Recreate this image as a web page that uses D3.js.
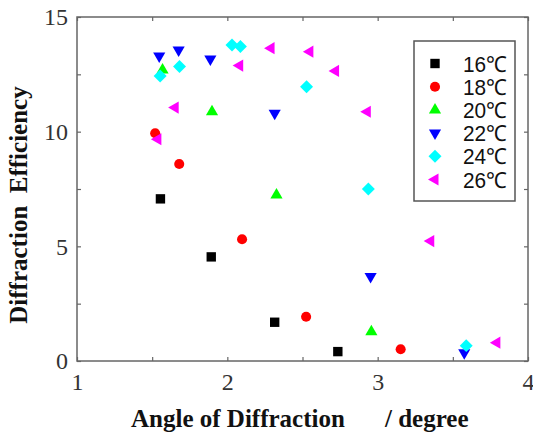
<!DOCTYPE html>
<html>
<head>
<meta charset="utf-8">
<script src="https://cdn.jsdelivr.net/npm/d3@7"></script>
<style>
  body { margin: 0; background: #fff; }
  svg { display: block; }
  .tick text { font-family: "Liberation Serif", serif; font-size: 24px; fill: #333; }
</style>
</head>
<body>
<script>
// series: temperature labels and (angle, efficiency) readings
var series = ["16℃", "18℃", "20℃", "22℃", "24℃", "26℃"];
var colors = ["#000000", "#ff0000", "#00ff00", "#0000ff", "#00ffff", "#ff00ff"];

var angle16 = [1.555, 1.893, 2.315, 2.735];
var eff16   = [7.07, 4.54, 1.69, 0.41];
var angle18 = [1.52, 1.68, 2.098, 2.524, 3.153];
var eff18   = [9.93, 8.59, 5.31, 1.93, 0.51];
var angle20 = [1.569, 1.898, 2.327, 2.958];
var eff20   = [12.69, 10.87, 7.24, 1.28];
var angle22 = [1.547, 1.676, 1.887, 2.315, 2.953, 3.576];
var eff22   = [13.30, 13.56, 13.17, 10.80, 3.68, 0.36];
var angle24 = [1.553, 1.682, 2.031, 2.087, 2.527, 2.938, 3.589];
var eff24   = [12.43, 12.84, 13.78, 13.71, 11.96, 7.50, 0.67];
var angle26 = [1.538, 1.653, 2.082, 2.291, 2.549, 2.72, 2.931, 3.353, 3.793];
var eff26   = [9.67, 11.05, 12.88, 13.64, 13.49, 12.65, 10.87, 5.23, 0.80];

var xTicks = [1, 2, 3, 4];
var yTicks = [0, 5, 10, 15];

var angles = [angle16, angle18, angle20, angle22, angle24, angle26];
var effs = [eff16, eff18, eff20, eff22, eff24, eff26];

(function(){
    var w = 533, h = 434;
    var left = 77, right = 528, top = 17, bottom = 361;

    var svg = d3.select("body").append("svg")
        .attr("width", w)
        .attr("height", h);

    var x = d3.scaleLinear().domain([1, 4]).range([left, right]);
    var y = d3.scaleLinear().domain([0, 15]).range([bottom, top]);

    // marker shape per series: square, circle, up, down, diamond, left
    var shapes = [
        {type: d3.symbolSquare, size: 88, rot: 0},
        {type: d3.symbolCircle, size: 80, rot: 0},
        {type: d3.symbolTriangle, size: 64, rot: 0},
        {type: d3.symbolTriangle, size: 64, rot: 180},
        {type: d3.symbolSquare, size: 84, rot: 45},
        {type: d3.symbolTriangle, size: 64, rot: -90}
    ];

    var xMinor = d3.range(1, 4.01, 0.5);
    var yMinor = d3.range(0, 15.01, 2.5);
    var fmtX = function(d) { return xTicks.indexOf(d) >= 0 ? d : ""; };
    var fmtY = function(d) { return yTicks.indexOf(d) >= 0 ? d : ""; };

    // axes, ticks pointing inward
    var gx = svg.append("g").attr("transform", "translate(0," + bottom + ")")
        .call(d3.axisBottom(x).tickValues(xMinor).tickSize(-4).tickPadding(12).tickFormat(fmtX));
    var gxt = svg.append("g").attr("transform", "translate(0," + top + ")")
        .call(d3.axisTop(x).tickValues(xMinor).tickSize(-4).tickFormat(""));
    var gy = svg.append("g").attr("transform", "translate(" + left + ",0)")
        .call(d3.axisLeft(y).tickValues(yMinor).tickSize(-4).tickPadding(9).tickFormat(fmtY));
    var gyr = svg.append("g").attr("transform", "translate(" + right + ",0)")
        .call(d3.axisRight(y).tickValues(yMinor).tickSize(-4).tickFormat(""));

    [gx, gxt, gy, gyr].forEach(function(g) {
        g.attr("font-family", null).attr("font-size", null);
        g.select(".domain").remove();
        g.selectAll(".tick line").attr("stroke", "#666").attr("stroke-width", 1.2);
    });

    // frame
    svg.append("rect")
        .attr("x", left).attr("y", top)
        .attr("width", right - left).attr("height", bottom - top)
        .attr("fill", "none")
        .attr("stroke", "#666")
        .attr("stroke-width", 1.5);

    // points
    series.forEach(function(name, i) {
        var pts = angles[i].map(function(a, j) { return [a, effs[i][j]]; });
        var sym = d3.symbol().type(shapes[i].type).size(shapes[i].size);
        svg.append("g").selectAll("path")
            .data(pts)
            .enter()
            .append("path")
            .attr("d", sym)
            .attr("transform", function(d) {
                return "translate(" + x(d[0]) + "," + y(d[1]) + ") rotate(" + shapes[i].rot + ")";
            })
            .attr("fill", colors[i]);
    });

    // legend
    var leg = svg.append("g");
    leg.append("rect")
        .attr("x", 414).attr("y", 41)
        .attr("width", 101).attr("height", 160)
        .attr("fill", "#fff")
        .attr("stroke", "#555")
        .attr("stroke-width", 1.5);
    series.forEach(function(name, i) {
        var ly = 63.5 + i * 23.2;
        var sym = d3.symbol().type(shapes[i].type).size(shapes[i].size);
        leg.append("path")
            .attr("d", sym)
            .attr("transform", "translate(435," + ly + ") rotate(" + shapes[i].rot + ")")
            .attr("fill", colors[i]);
        leg.append("text")
            .attr("x", 463)
            .attr("y", ly + 8)
            .style("font-family", "'Liberation Sans Narrow', 'Liberation Sans', sans-serif")
            .style("font-size", "22px")
            .attr("textLength", 44)
            .attr("lengthAdjust", "spacingAndGlyphs")
            .attr("fill", "#111")
            .text(name);
    });

    // axis titles
    svg.append("text")
        .attr("transform", "translate(27,205) rotate(-90)")
        .attr("text-anchor", "middle")
        .style("font-family", "'Liberation Serif', serif")
        .style("font-weight", "bold")
        .style("font-size", "25px")
        .attr("fill", "#111")
        .style("white-space", "pre")
        .text("Diffraction  Efficiency");

    svg.append("text")
        .attr("x", 131)
        .attr("y", 427)
        .style("font-family", "'Liberation Serif', serif")
        .style("font-weight", "bold")
        .style("font-size", "25px")
        .attr("fill", "#111")
        .text("Angle of Diffraction");

    svg.append("text")
        .attr("x", 385)
        .attr("y", 427)
        .style("font-family", "'Liberation Serif', serif")
        .style("font-weight", "bold")
        .style("font-size", "25px")
        .attr("fill", "#111")
        .text("/ degree");
}());
</script>
</body>
</html>
